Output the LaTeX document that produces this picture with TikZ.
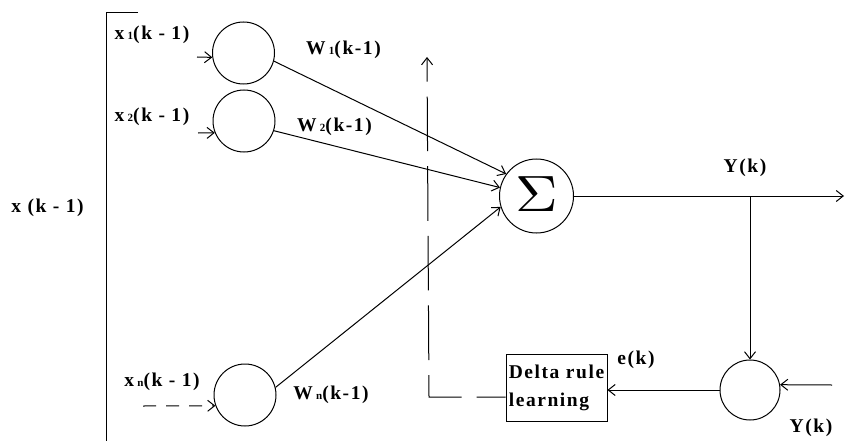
\documentclass[tikz,border=0pt]{standalone}
\usepackage{fontspec}
\setmainfont{Liberation Serif}
\newfontfamily\lblfont[LetterSpace=8]{Liberation Serif}
\usetikzlibrary{arrows.meta}
\newcommand{\smidx}[1]{\raisebox{0.5pt}{\fontsize{11}{11}\selectfont #1}}
\begin{document}
\begin{tikzpicture}[x=1pt,y=-1pt,
  lbl/.style={font=\lblfont\bfseries\fontsize{19.5}{28}\selectfont, inner sep=0pt},
  neuron/.style={draw, circle, line width=1pt, inner sep=0pt},
  wire/.style={line width=1pt},
  arr/.style={wire, -{Straight Barb[length=7pt,width=11pt,line width=1pt]}},
  fback/.style={wire, dash pattern=on 54.6pt off 15pt, dash phase=25.6pt},
  learnbox/.style={draw, line width=0.8pt, minimum width=101pt, minimum height=67pt,
    align=left, inner sep=2pt, font=\lblfont\bfseries\fontsize{19.5}{28}\selectfont}]
\useasboundingbox (0,0) rectangle (845,441);

% input bracket
\coordinate (bt) at (138,13);
\coordinate (bc) at (106,13);
\coordinate (bb) at (106,441);
\draw[wire] (bt) -- (bc) -- (bb);

% neurons
\node[neuron, minimum size=62pt] (c1) at (243.5,53) {};
\node[neuron, minimum size=62pt] (c2) at (244,121) {};
\node[neuron, minimum size=62pt] (cn) at (245,395) {};
\node[neuron, minimum size=74pt] (sig) at (536.5,196)
  {\raisebox{3pt}{\scalebox{5.9}[5.1]{$\Sigma$}}};
\node[neuron, minimum size=60pt] (err) at (750,390) {};
\node[learnbox] (box) at (556.5,387.5) {Delta rule\\learning};

% labels
\node[lbl] (lx)  at (47.5,208) {x (k - 1)};
\node[lbl] (lx1) at (152,35) {x\,\smidx{1}(k - 1)};
\node[lbl] (lx2) at (152,117) {x\,\smidx{2}(k - 1)};
\node[lbl] (lxn) at (162,382) {x\,\smidx{n}(k - 1)};
\node[lbl] (lw1) at (343.5,50) {W\,\smidx{1}(k-1)};
\node[lbl] (lw2) at (334.5,127) {W\,\smidx{2}(k-1)};
\node[lbl] (lwn) at (331,395) {W\,\smidx{n}(k-1)};
\node[lbl] (ly1) at (745,168) {Y(k)};
\node[lbl] (ly2) at (811,428) {Y(k)};
\node[lbl] (le)  at (636,360) {e(k)};

% inputs
\coordinate (i1) at (197,57);
\coordinate (i2) at (198,133);
\coordinate (in) at (143,406);
\draw[arr] (i1) -- (c1.188);
\draw[arr] (i2) -- (c2.202);
\draw[arr, dash pattern=on 13pt off 10pt] (in) -- (cn.200);

% weighted connections
\draw[arr] (c1.-15) -- (sig.144);
\draw[arr] (c2.-18) -- (sig.167);
\draw[arr] (cn.14) -- (sig.197);

% output and error path
\coordinate (out) at (844,196);
\coordinate (jn) at (750,196);
\coordinate (yin) at (832,385);
\draw[arr] (sig.east) -- (out);
\draw[arr] (jn) -- (err.north);
\draw[arr] (yin) -- (err.10);
\draw[arr] (err.west) -- (err.west -| box.east);

% dashed feedback to the weights
\coordinate (corner) at (429,397);
\coordinate (up) at (427,57);
\draw[fback, -{Straight Barb[length=7pt,width=11pt,line width=1pt]}]
  (box.west |- corner) -- (corner) -- (up);
\end{tikzpicture}
\end{document}
